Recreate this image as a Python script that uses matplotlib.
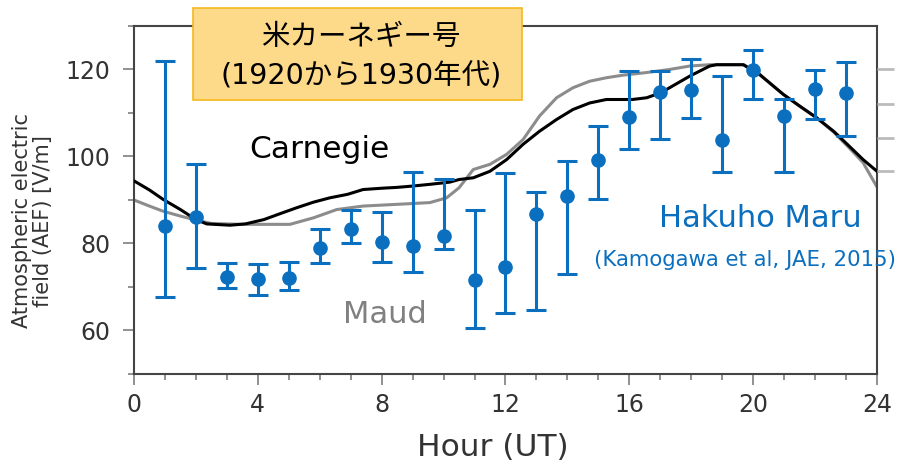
import numpy as np
import matplotlib
matplotlib.use('Agg')
import matplotlib.pyplot as plt
from matplotlib.patches import Rectangle

# Hakuho Maru hourly means with error bars
hak_hour = np.arange(1, 24)
hak_mean = [84.1, 86.2, 72.3, 71.9, 72.1, 79.0, 83.4, 80.4, 79.4, 81.7, 71.5, 74.6,
            86.7, 90.9, 99.3, 109.0, 114.8, 115.2, 103.7, 119.8, 109.3, 115.6, 114.5]
hak_upper = [122.0, 98.2, 75.5, 75.2, 75.8, 83.4, 87.6, 87.2, 96.5, 94.9, 87.7, 96.2,
             91.9, 98.9, 107.0, 119.6, 119.6, 122.5, 118.4, 124.4, 113.3, 119.8, 121.8]
hak_lower = [67.8, 74.3, 69.8, 68.2, 69.3, 75.4, 80.0, 75.8, 73.4, 78.8, 60.5, 64.1,
             64.8, 72.9, 90.3, 101.8, 104.1, 108.9, 96.5, 113.1, 96.5, 108.7, 104.6]

# Carnegie curve (black)
carn_hour = [0, 0.5, 0.95, 1.5, 2.0, 2.35, 3.1, 3.6, 4.2, 4.7, 5.25, 5.8, 6.33, 6.9,
             7.4, 8.0, 8.5, 9.0, 9.56, 10.2, 10.5, 10.96, 11.5, 12.04, 12.57, 13.1,
             13.65, 14.18, 14.72, 15.26, 16.1, 16.56, 17.0, 17.3, 17.96, 18.6, 18.82,
             19.68, 20.2, 20.97, 21.5, 22.05, 22.6, 23.1, 23.55, 24]
carn_val = [94.4, 92.3, 90.1, 87.8, 85.5, 84.5, 84.2, 84.5, 85.5, 86.8, 88.2, 89.5,
            90.5, 91.3, 92.4, 92.7, 92.9, 93.2, 93.6, 94.1, 94.7, 95.1, 96.6, 99.3,
            102.8, 105.8, 108.5, 110.8, 112.3, 113.1, 113.1, 113.5, 114.6, 115.8,
            118.5, 120.8, 121.1, 121.1, 118.9, 114.3, 111.6, 108.9, 105.8, 102.4,
            99.3, 96.6]

# Maud curve (gray)
maud_hour = [0, 0.5, 0.95, 1.5, 2.0, 2.5, 3.5, 4.5, 5.04, 5.8, 6.55, 7.4, 8.5, 9.56,
             10.1, 10.5, 10.96, 11.5, 12.04, 12.57, 13.1, 13.65, 14.18, 14.72, 15.26,
             15.8, 16.56, 17.3, 17.96, 18.6, 19.0, 19.7, 20.2, 20.97, 21.5, 22.05,
             22.6, 23.1, 23.55, 24]
maud_val = [90.0, 88.6, 87.4, 86.3, 85.4, 84.6, 84.4, 84.4, 84.4, 85.9, 87.8, 88.6,
            89.0, 89.4, 90.5, 92.8, 97.0, 98.2, 100.5, 103.9, 109.3, 113.5, 115.8,
            117.3, 118.1, 118.7, 119.3, 120.0, 120.8, 121.1, 121.1, 121.1, 118.9,
            114.3, 111.6, 108.9, 105.6, 102.0, 98.6, 93.0]

# stray ticks of the neighbouring panel on the right edge
stray_ticks = [120, 111.95, 104.3, 96.6]

blue = '#0b6fbf'
dark = '#333333'

fig = plt.figure(figsize=(8.99, 4.69), dpi=100)
ax = fig.add_axes([0.149, 0.2026, 0.8265, 0.742])

ax.plot(maud_hour, maud_val, color='#8c8c8c', lw=2.2, zorder=2)
ax.plot(carn_hour, carn_val, color='black', lw=2.2, zorder=3)

hak_mean = np.array(hak_mean)
yerr = [hak_mean - np.array(hak_lower), np.array(hak_upper) - hak_mean]
ax.errorbar(hak_hour, hak_mean, yerr=yerr, fmt='o', color=blue, ms=9.5,
            elinewidth=2.2, capsize=7, capthick=2.2, zorder=4)

ax.set_xlim(0, 24)
ax.set_ylim(50, 130)
ax.set_xticks(np.arange(0, 25, 4))
ax.set_xticks(np.arange(0, 25, 1), minor=True)
ax.set_yticks([60, 80, 100, 120])
ax.set_yticks([50, 70, 90, 110, 130], minor=True)
ax.tick_params(which='major', length=8, width=1.3, color='#888888',
               labelsize=17, labelcolor=dark)
ax.tick_params(axis='x', which='major', pad=6)
ax.tick_params(axis='y', which='major', pad=9)
ax.tick_params(which='minor', length=4, width=1.3, color='#888888')
for s in ax.spines.values():
    s.set_color('#444444')
    s.set_linewidth(1.5)

ax2 = ax.twinx()
ax2.set_ylim(ax.get_ylim())
ax2.set_yticks(stray_ticks)
ax2.tick_params(axis='y', length=12, width=2, color='#bbbbbb', labelright=False)
for s in ax2.spines.values():
    s.set_visible(False)

ax.text(5.98, 101.6, 'Carnegie', fontsize=22.5, color='black', ha='center', va='center')
ax.text(8.12, 63.6, 'Maud', fontsize=22, color='#808080', ha='center', va='center')
ax.text(20.23, 85.8, 'Hakuho Maru', fontsize=22, color=blue, ha='center', va='center')
ax.text(19.73, 76.2, '(Kamogawa et al, JAE, 2015)', fontsize=15.3, color=blue,
        ha='center', va='center', clip_on=False, zorder=5)

fig.text(0.548, 0.045, 'Hour (UT)', fontsize=22.5, color=dark, ha='center', va='center')
fig.text(0.036, 0.529, 'Atmospheric electric\nfield (AEF) [V/m]', fontsize=15,
         color=dark, rotation=90, ha='center', va='center', linespacing=1.1)

# title box
box = Rectangle((193 / 899, 1 - 100 / 469), 329 / 899, 92 / 469, transform=fig.transFigure,
                facecolor='#fdd98a', edgecolor='#f5b91c', lw=1.2, zorder=5)
fig.add_artist(box)
jp = ['DejaVu Sans', 'Noto Sans CJK JP']
fig.text(361 / 899, 1 - 36.7 / 469, '米カーネギー号', family=jp, fontsize=20.5,
         color='black', ha='center', va='center', zorder=6)
fig.text(361 / 899, 1 - 76.7 / 469, '(1920から1930年代)', family=jp, fontsize=20.5,
         color='black', ha='center', va='center', zorder=6)

fig.savefig('out.png', dpi=100)
